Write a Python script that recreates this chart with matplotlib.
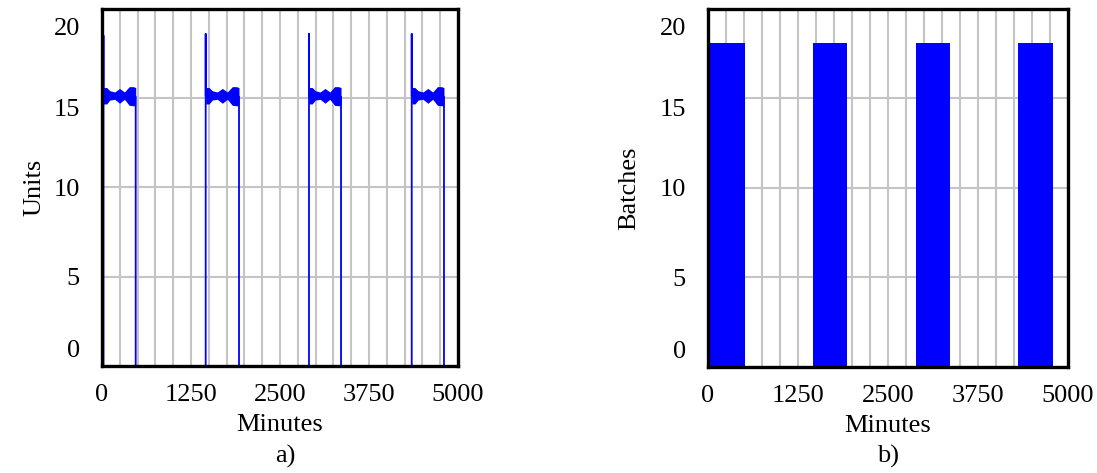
import matplotlib
matplotlib.use('Agg')
import matplotlib.pyplot as plt
import numpy as np

# a) units in process, four pulses
pulse_start_a = [20, 1456, 2907, 4350]
pulse_end_a = [473, 1924, 3357, 4803]
spike_a = [18.5, 18.6, 18.6, 18.6]
# envelope of the oscillating plateau (fraction of pulse width)
band_frac = [0.0, 0.1, 0.2, 0.35, 0.5, 0.65, 0.8, 0.92, 1.0]
band_upper = [15.6, 15.6, 15.42, 15.35, 15.55, 15.35, 15.65, 15.65, 15.6]
band_lower = [14.68, 14.68, 14.9, 14.94, 14.72, 14.94, 14.6, 14.58, 14.58]

# b) batches
batch_start = [0, 1454, 2885, 4306]
batch_end = [514, 1931, 3361, 4788]
batch_height = [18.1, 18.1, 18.1, 18.1]

y_tick_values = [0, 5, 10, 15, 20]
y_label_pos = [1.0, 5.0, 10.0, 14.5, 19.0]
y_grid = [5, 10, 15]
x_tick_values = [0, 1250, 2500, 3750, 5000]

FONT = 'Liberation Serif'
BLUE = '#0000ff'
GRID = '#c4c4c4'


def style_axes(ax, ylabel, ypad):
  ax.set_xlim(0, 5000)
  ax.set_ylim(0, 20)
  ax.set_xticks(x_tick_values)
  ax.set_xticklabels([str(v) for v in x_tick_values], fontfamily=FONT, fontsize=19)
  ax.set_yticks(y_label_pos)
  ax.set_yticklabels([str(v) for v in y_tick_values], fontfamily=FONT, fontsize=19)
  ax.tick_params(which='both', length=0)
  ax.tick_params(axis='x', pad=13)
  ax.tick_params(axis='y', pad=16)
  for gx in np.arange(250, 5000, 250):
    ax.axvline(gx, color=GRID, lw=1.5, zorder=1)
  for gy in y_grid:
    ax.axhline(gy, color=GRID, lw=1.5, zorder=1)
  for s in ax.spines.values():
    s.set_linewidth(2.4)
    s.set_color('black')
    s.set_zorder(5)
  ax.set_xlabel('Minutes', fontfamily=FONT, fontsize=19, labelpad=6)
  ax.set_ylabel(ylabel, fontfamily=FONT, fontsize=19, labelpad=ypad)


fig = plt.figure(figsize=(10.97, 4.73), dpi=100)
ax1 = fig.add_axes([0.093, 0.2262, 0.3245, 0.7548])
ax2 = fig.add_axes([0.6454, 0.2241, 0.3282, 0.757])

# left: line with spikes, plateau band, drop to zero
xs, ys = [0], [0]
for s, e, sp in zip(pulse_start_a, pulse_end_a, spike_a):
  bx = [s + f * (e - s) for f in band_frac]
  mid = [(u + l) / 2 for u, l in zip(band_upper, band_lower)]
  xs += [s, s] + bx + [e]
  ys += [0, sp] + mid + [0]
  ax1.fill_between(bx, band_lower, band_upper, color=BLUE, lw=0, zorder=3)
xs.append(5000)
ys.append(0)
ax1.plot(xs, ys, color=BLUE, lw=1.3, zorder=3)
style_axes(ax1, 'Units', 6)

# right: batches as blocks
widths = [e - s for s, e in zip(batch_start, batch_end)]
ax2.bar(batch_start, batch_height, width=widths, align='edge', color=BLUE, lw=0, zorder=3)
style_axes(ax2, 'Batches', 14)

fig.text(0.2602, 0.022, 'a)', fontfamily=FONT, fontsize=19, ha='center', va='baseline')
fig.text(0.8095, 0.022, 'b)', fontfamily=FONT, fontsize=19, ha='center', va='baseline')

plt.savefig('out.png', dpi=100)
